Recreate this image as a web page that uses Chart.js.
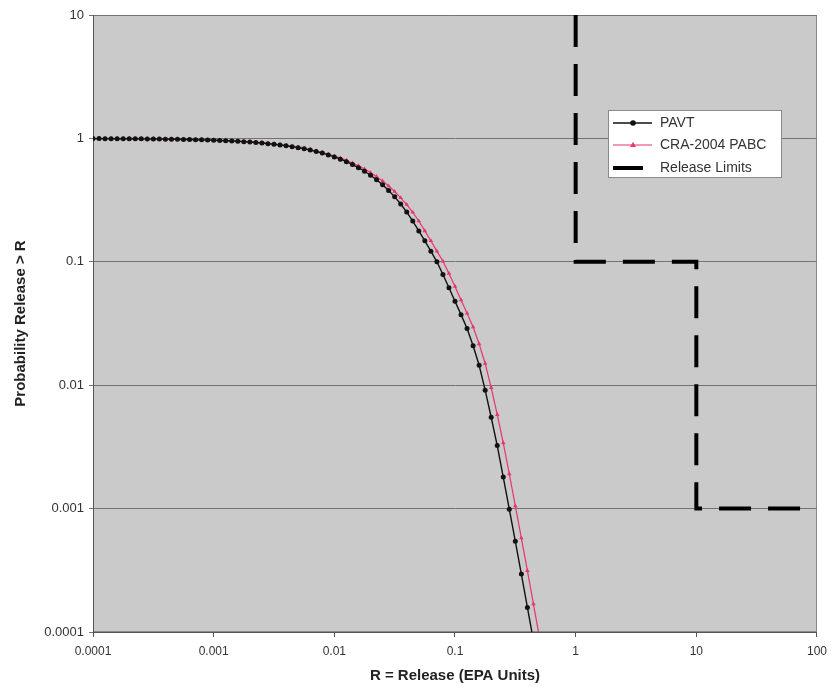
<!DOCTYPE html>
<html>
<head>
<meta charset="utf-8">
<script src="https://cdn.jsdelivr.net/npm/chart.js@4.4.0/dist/chart.umd.min.js"></script>
<style>
  html, body { margin: 0; padding: 0; background: #fff; }
  #wrap { width: 834px; height: 690px; }
</style>
</head>
<body>
<div id="wrap"><canvas id="grafico" width="834" height="690"></canvas></div>
<script>
// valores de R (EPA units), 20 por decada
const releaseR = [
  1.000e-4, 1.122e-4, 1.259e-4, 1.413e-4, 1.585e-4, 1.778e-4, 1.995e-4, 2.239e-4, 2.512e-4, 2.818e-4,
  3.162e-4, 3.548e-4, 3.981e-4, 4.467e-4, 5.012e-4, 5.623e-4, 6.310e-4, 7.079e-4, 7.943e-4, 8.913e-4,
  1.000e-3, 1.122e-3, 1.259e-3, 1.413e-3, 1.585e-3, 1.778e-3, 1.995e-3, 2.239e-3, 2.512e-3, 2.818e-3,
  3.162e-3, 3.548e-3, 3.981e-3, 4.467e-3, 5.012e-3, 5.623e-3, 6.310e-3, 7.079e-3, 7.943e-3, 8.913e-3,
  1.000e-2, 1.122e-2, 1.259e-2, 1.413e-2, 1.585e-2, 1.778e-2, 1.995e-2, 2.239e-2, 2.512e-2, 2.818e-2,
  3.162e-2, 3.548e-2, 3.981e-2, 4.467e-2, 5.012e-2, 5.623e-2, 6.310e-2, 7.079e-2, 7.943e-2, 8.913e-2,
  0.1000, 0.1122, 0.1259, 0.1413, 0.1585, 0.1778, 0.1995, 0.2239, 0.2512, 0.2818,
  0.3162, 0.3548, 0.3981, 0.4467, 0.5012
];

// PAVT: probabilidade release > R
const pavtProb = [
  0.9966, 0.9961, 0.9957, 0.9951, 0.9945, 0.9939, 0.9931, 0.9923, 0.9914, 0.9903,
  0.9891, 0.9878, 0.9864, 0.9847, 0.9829, 0.9808, 0.9785, 0.9759, 0.9730, 0.9697,
  0.966, 0.962, 0.958, 0.952, 0.947, 0.941, 0.934, 0.926, 0.917, 0.907,
  0.897, 0.885, 0.872, 0.857, 0.841, 0.824, 0.804, 0.783, 0.760, 0.735,
  0.708, 0.679, 0.648, 0.614, 0.579, 0.542, 0.503, 0.462, 0.421, 0.378,
  0.336, 0.294, 0.253, 0.214, 0.178, 0.148, 0.122, 0.100, 0.0789, 0.0617,
  0.0479, 0.0373, 0.0288, 0.0209, 0.0145, 0.00912, 0.00550, 0.00324, 0.00180, 0.000989,
  0.000543, 0.000295, 0.000158, 0.0000851
];

// CRA-2004 PABC
const pabcProb = [
  0.9967, 0.9963, 0.9958, 0.9953, 0.9948, 0.9941, 0.9934, 0.9926, 0.9917, 0.9907,
  0.9896, 0.9883, 0.9869, 0.9853, 0.9835, 0.9815, 0.9793, 0.9768, 0.9740, 0.9709,
  0.967, 0.963, 0.959, 0.954, 0.949, 0.943, 0.936, 0.928, 0.920, 0.911,
  0.900, 0.889, 0.876, 0.862, 0.847, 0.830, 0.811, 0.791, 0.768, 0.744,
  0.719, 0.692, 0.663, 0.632, 0.599, 0.565, 0.528, 0.490, 0.451, 0.411,
  0.371, 0.330, 0.291, 0.252, 0.214, 0.178, 0.148, 0.122, 0.101, 0.0805,
  0.0632, 0.0491, 0.0383, 0.0296, 0.0216, 0.0150, 0.00955, 0.00578, 0.00341, 0.00191,
  0.00105, 0.000577, 0.000314, 0.000169, 0.0000906
];

// limites de release (degraus)
const limitR = [1, 1, 10, 10, 80];
const limitProb = [10, 0.1, 0.1, 0.001, 0.001];

const xTickValues = [0.0001, 0.001, 0.01, 0.1, 1, 10, 100];
const xTickLabels = ["0.0001", "0.001", "0.01", "0.1", "1", "10", "100"];
const yTickValues = [0.0001, 0.001, 0.01, 0.1, 1, 10];
const yTickLabels = ["0.0001", "0.001", "0.01", "0.1", "1", "10"];

const fonte = "'Liberation Sans', Arial, sans-serif";
const corPabc = "#e8356c";

function pontos(xs, ys) {
  return ys.map((y, i) => ({ x: xs[i], y: y }));
}

// fundo cinza da area do grafico
const fundoArea = {
  id: "fundoArea",
  beforeDraw(chart) {
    const { ctx, chartArea: a } = chart;
    ctx.save();
    ctx.fillStyle = "#cacaca";
    ctx.fillRect(a.left, a.top, a.right - a.left, a.bottom - a.top);
    ctx.strokeStyle = "#8a8a8a";
    ctx.lineWidth = 1;
    ctx.strokeRect(a.left + 0.5, a.top + 0.5, a.right - a.left - 1, a.bottom - a.top - 1);
    ctx.restore();
  }
};

// legenda desenhada dentro da area
const legenda = {
  id: "legenda",
  afterDraw(chart) {
    const ctx = chart.ctx;
    const bx = 608, by = 110, bw = 174, bh = 68;
    ctx.save();
    ctx.fillStyle = "#ffffff";
    ctx.fillRect(bx, by, bw, bh);
    ctx.strokeStyle = "#8a8a8a";
    ctx.lineWidth = 1;
    ctx.strokeRect(bx + 0.5, by + 0.5, bw - 1, bh - 1);

    const rows = [123, 145, 168];
    const x0 = 613, x1 = 652, xm = 633;

    // PAVT
    ctx.strokeStyle = "#111";
    ctx.lineWidth = 1.4;
    ctx.beginPath(); ctx.moveTo(x0, rows[0]); ctx.lineTo(x1, rows[0]); ctx.stroke();
    ctx.fillStyle = "#111";
    ctx.beginPath(); ctx.arc(xm, rows[0], 2.8, 0, Math.PI * 2); ctx.fill();

    // PABC
    ctx.strokeStyle = corPabc;
    ctx.lineWidth = 1.2;
    ctx.beginPath(); ctx.moveTo(x0, rows[1]); ctx.lineTo(x1, rows[1]); ctx.stroke();
    ctx.fillStyle = corPabc;
    ctx.beginPath();
    ctx.moveTo(xm, rows[1] - 3); ctx.lineTo(xm + 3, rows[1] + 2); ctx.lineTo(xm - 3, rows[1] + 2);
    ctx.closePath(); ctx.fill();

    // Release Limits
    ctx.strokeStyle = "#000";
    ctx.lineWidth = 4;
    ctx.beginPath(); ctx.moveTo(x0, rows[2]); ctx.lineTo(x0 + 30, rows[2]); ctx.stroke();

    ctx.fillStyle = "#333";
    ctx.font = "14px " + fonte;
    ctx.textBaseline = "middle";
    ctx.textAlign = "left";
    ctx.fillText("PAVT", 660, rows[0]);
    ctx.fillText("CRA-2004 PABC", 660, rows[1]);
    ctx.fillText("Release Limits", 660, rows[2]);
    ctx.restore();
  }
};

const ctx = document.getElementById("grafico").getContext("2d");
new Chart(ctx, {
  type: "line",
  data: {
    datasets: [
      {
        label: "PAVT",
        data: pontos(releaseR, pavtProb),
        borderColor: "#111",
        backgroundColor: "#111",
        borderWidth: 1.4,
        pointStyle: "circle",
        pointRadius: 2.5,
        pointBorderWidth: 0,
        tension: 0
      },
      {
        label: "CRA-2004 PABC",
        data: pontos(releaseR, pabcProb),
        borderColor: corPabc,
        backgroundColor: corPabc,
        borderWidth: 1.2,
        pointStyle: "triangle",
        pointRadius: 2.6,
        pointBorderWidth: 0,
        tension: 0
      },
      {
        label: "Release Limits",
        data: pontos(limitR, limitProb),
        borderColor: "#000",
        borderWidth: 4,
        borderDash: [32, 17],
        borderCapStyle: "butt",
        borderJoinStyle: "miter",
        pointRadius: 0,
        tension: 0
      }
    ]
  },
  options: {
    responsive: false,
    animation: false,
    events: [],
    layout: { padding: { top: 15, right: 17, left: 0, bottom: 0 } },
    plugins: {
      legend: { display: false },
      tooltip: { enabled: false }
    },
    scales: {
      x: {
        type: "logarithmic",
        position: "bottom",
        min: 0.0001,
        max: 100,
        afterBuildTicks: s => { s.ticks = xTickValues.map(v => ({ value: v })); },
        afterFit: s => { s.height = 58; },
        ticks: {
          callback: (v, i) => xTickLabels[i],
          autoSkip: false,
          maxRotation: 0,
          padding: 7,
          color: "#333",
          font: { family: fonte, size: 12 }
        },
        grid: { drawOnChartArea: false, drawTicks: true, tickLength: 5, color: "#555" },
        border: { color: "#555", width: 1 },
        title: {
          display: true,
          text: "R = Release (EPA Units)",
          color: "#222",
          font: { family: fonte, size: 15, weight: "bold" },
          padding: { top: 2, bottom: 5 }
        }
      },
      y: {
        type: "logarithmic",
        min: 0.0001,
        max: 10,
        afterBuildTicks: s => { s.ticks = yTickValues.map(v => ({ value: v })); },
        afterFit: s => { s.width = 93; },
        ticks: {
          callback: (v, i) => yTickLabels[i],
          autoSkip: false,
          padding: 5,
          color: "#333",
          font: { family: fonte, size: 13 }
        },
        grid: { drawOnChartArea: true, drawTicks: true, tickLength: 4, color: "#737373", lineWidth: 1 },
        border: { color: "#555", width: 1 },
        title: {
          display: true,
          text: "Probability Release > R",
          color: "#222",
          font: { family: fonte, size: 15, weight: "bold" },
          padding: { top: 12, bottom: 0 }
        }
      }
    }
  },
  plugins: [fundoArea, legenda]
});
</script>
</body>
</html>
